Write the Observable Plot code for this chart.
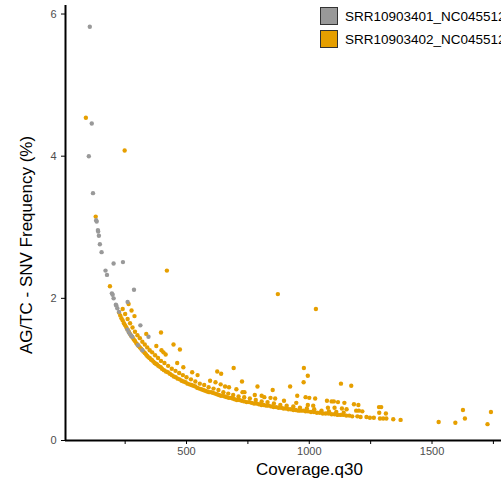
<!DOCTYPE html>
<html><head><meta charset="utf-8">
<script src="https://cdn.jsdelivr.net/npm/d3@7"></script>
<script src="https://cdn.jsdelivr.net/npm/@observablehq/plot@0.6"></script>
<style>
html,body{margin:0;padding:0;background:#fff;overflow:hidden;width:501px;height:487px;}
#wrap{position:relative;width:501px;height:487px;overflow:hidden;font-family:"Liberation Sans",Arial,sans-serif;}
.leg{position:absolute;left:320px;display:flex;align-items:center;white-space:nowrap;font-size:13.5px;color:#000;height:18px;}
.sw{width:16px;height:16px;border:1px solid #333;margin-right:7px;flex:none;}
</style></head><body><div id="wrap"></div>
<script>
const seriesNames = ["SRR10903401_NC045512.2", "SRR10903402_NC045512.2"];
const seriesColors = ["#999999", "#E69F00"];
const xTickValues = [250, 500, 750, 1000, 1250, 1500, 1750];
const xTickLabels = [500, 1000, 1500];
const yTickValues = [0, 2, 4, 6];
const xTitle = "Coverage.q30";
const yTitle = "AG/TC - SNV Frequency (%)";

// Series 1 (grey): [coverage, frequency]
const greyPoints = [
  [106,5.82],[114,4.46],[102,4.00],[119,3.48],[132,3.10],[134,3.08],[139,2.96],[140,2.94],
  [143,2.88],[147,2.76],[154,2.65],[203,2.49],[241,2.51],[170,2.39],[176,2.33],[196,2.07],
  [199,2.05],[203,2.00],[286,2.12],[212,1.91],[214,1.90],[218,1.86],[225,1.81],[260,1.95],
  [259,1.56],[265,1.52],[273,1.48],[279,1.46],[312,1.62],[345,1.46],[302,1.34],[320,1.27]
];

// Series 2 (orange), scattered points
const orangeScatter = [
  [90,4.54],[248,4.08],[130,3.15],[420,2.39],[188,2.17],[264,1.92],[276,1.83],[288,1.75],
  [336,1.50],[396,1.52],[872,2.06],[1027,1.85],[377,1.33],[447,1.35],[473,1.28],[398,1.27],
  [406,1.24],[415,1.21],[462,1.09],[487,1.03],[523,0.96],[545,0.92],[625,0.97],[641,0.94],
  [692,1.02],[596,0.84],[618,0.82],[639,0.79],[657,0.76],[673,0.75],[726,0.83],[703,0.72],
  [728,0.68],[736,0.68],[789,0.76],[778,0.64],[806,0.63],[817,0.61],[851,0.71],[842,0.60],
  [861,0.59],[897,0.56],[922,0.76],[951,0.63],[947,0.53],[978,1.02],[994,0.91],[977,0.82],
  [985,0.61],[1000,0.60],[1024,0.59],[994,0.50],[1016,0.49],[1072,0.56],[1091,0.55],[1100,0.55],
  [1117,0.54],[1143,0.53],[1129,0.80],[1171,0.77],[1076,0.46],[1103,0.46],[1133,0.45],[1152,0.44],
  [1182,0.51],[1200,0.50],[1191,0.42],[1202,0.42],[1216,0.41],[1284,0.47],[1293,0.47],[1285,0.39],
  [1312,0.38],[1527,0.26],[1595,0.25],[1626,0.43],[1634,0.31],[1726,0.23],[1740,0.40]
];

// Series 2 (orange), dense lower band
const orangeBandLow = [
  [225,1.80],[230,1.76],[235,1.72],[240,1.69],[245,1.65],[250,1.62],[255,1.59],[260,1.56],
  [265,1.53],[270,1.50],[275,1.47],[280,1.45],[285,1.42],[290,1.40],[295,1.37],[300,1.35],
  [305,1.33],[310,1.31],[315,1.29],[320,1.27],[325,1.25],[330,1.23],[335,1.21],[340,1.19],
  [345,1.17],[350,1.16],[355,1.14],[360,1.13],[365,1.11],[370,1.09],[375,1.08],[380,1.07],
  [385,1.05],[390,1.04],[395,1.03],[400,1.01],[408,0.99],[416,0.97],[424,0.96],[432,0.94],
  [440,0.92],[448,0.90],[456,0.89],[464,0.87],[472,0.86],[480,0.84],[488,0.83],[496,0.82],
  [504,0.80],[512,0.79],[520,0.78],[528,0.77],[536,0.76],[544,0.74],[552,0.73],[560,0.72],
  [568,0.71],[576,0.70],[584,0.69],[592,0.68],[600,0.68],[608,0.67],[616,0.66],[624,0.65],
  [632,0.64],[640,0.63],[648,0.63],[656,0.62],[664,0.61],[672,0.60],[680,0.60],[688,0.59],
  [696,0.58],[705,0.57],[715,0.57],[725,0.56],[735,0.55],[745,0.54],[755,0.54],[765,0.53],
  [775,0.52],[785,0.52],[795,0.51],[805,0.50],[815,0.50],[825,0.49],[835,0.49],[845,0.48],
  [855,0.47],[865,0.47],[875,0.46],[885,0.46],[895,0.45],[905,0.45],[915,0.44],[925,0.44],
  [935,0.43],[945,0.43],[955,0.42],[965,0.42],[975,0.42],[985,0.41],[995,0.41],[1007,0.40],
  [1019,0.40],[1031,0.39],[1043,0.39],[1055,0.38],[1067,0.38],[1079,0.38],[1091,0.37],[1103,0.37],
  [1115,0.36],[1127,0.36],[1139,0.36],[1151,0.35],[1163,0.35],[1175,0.34],[1196,0.34],[1209,0.33],
  [1233,0.33],[1247,0.32],[1263,0.32],[1288,0.31],[1301,0.31],[1314,0.31],[1342,0.30],[1372,0.29]
];
const orangeBandHigh = [
  [240,1.85],[250,1.78],[260,1.71],[270,1.65],[280,1.59],[290,1.53],[300,1.48],[310,1.44],
  [320,1.39],[330,1.35],[340,1.31],[350,1.27],[360,1.24],[372,1.20],[384,1.16],[396,1.12],
  [410,1.09],[425,1.05],[440,1.01],[455,0.98],[470,0.95],[485,0.92],[500,0.89],[518,0.86],
  [536,0.83],[554,0.80],[572,0.78],[590,0.75],[610,0.73],[630,0.71],[650,0.68],[670,0.66],
  [690,0.64],[712,0.62],[735,0.61],[758,0.59],[782,0.57],[806,0.55],[830,0.54],[856,0.52],
  [882,0.50],[908,0.49],[935,0.48],[962,0.46],[990,0.45],[1020,0.44],[1050,0.42],[1080,0.41],
  [1110,0.40],[1140,0.39]
];

const toRows = (arr, s) => arr.map(([x, y]) => ({x, y, s}));
const orangeRows = [...toRows(orangeBandLow, 1), ...toRows(orangeBandHigh, 1), ...toRows(orangeScatter, 1)];
const greyRows = toRows(greyPoints, 0);

const chart = Plot.plot({
  width: 501, height: 487,
  marginLeft: 65, marginRight: 0, marginTop: 5, marginBottom: 47,
  style: {fontFamily: "'Liberation Sans', Arial, sans-serif", background: "#fff", overflow: "visible"},
  x: {domain: [7, 1783]},
  y: {domain: [0, 6.12]},
  marks: [
    Plot.dot(orangeRows, {x: "x", y: "y", r: 2.2, fill: seriesColors[1], stroke: "none"}),
    Plot.dot(greyRows, {x: "x", y: "y", r: 2.2, fill: seriesColors[0], stroke: "none"}),
    Plot.axisX({ticks: xTickValues, tickFormat: d => xTickLabels.includes(d) ? String(d) : "",
      tickSize: 4, tickPadding: 3, stroke: "#000", fill: "#4d4d4d", fontSize: 11, label: null}),
    Plot.axisY({ticks: yTickValues, tickFormat: d => String(d),
      tickSize: 4, tickPadding: 5, stroke: "#000", fill: "#4d4d4d", fontSize: 11, label: null}),
    Plot.ruleX([7], {stroke: "#000", strokeWidth: 2}),
    Plot.ruleY([0], {stroke: "#000", strokeWidth: 2}),
    Plot.text([xTitle], {frameAnchor: "bottom", textAnchor: "middle", lineAnchor: "middle",
      dx: 26, dy: 29, fontSize: 17, fill: "#000"}),
    Plot.text([yTitle], {frameAnchor: "left", textAnchor: "middle", lineAnchor: "middle",
      dx: -39, dy: 22, rotate: -90, fontSize: 17, fill: "#000"})
  ]
});
const wrap = document.getElementById("wrap");
wrap.appendChild(chart);

seriesNames.forEach((name, i) => {
  const row = document.createElement("div");
  row.className = "leg";
  row.style.top = (7 + i * 23) + "px";
  const sw = document.createElement("div");
  sw.className = "sw";
  sw.style.background = seriesColors[i];
  const t = document.createElement("span");
  t.textContent = name;
  row.appendChild(sw); row.appendChild(t);
  wrap.appendChild(row);
});
</script></body></html>
